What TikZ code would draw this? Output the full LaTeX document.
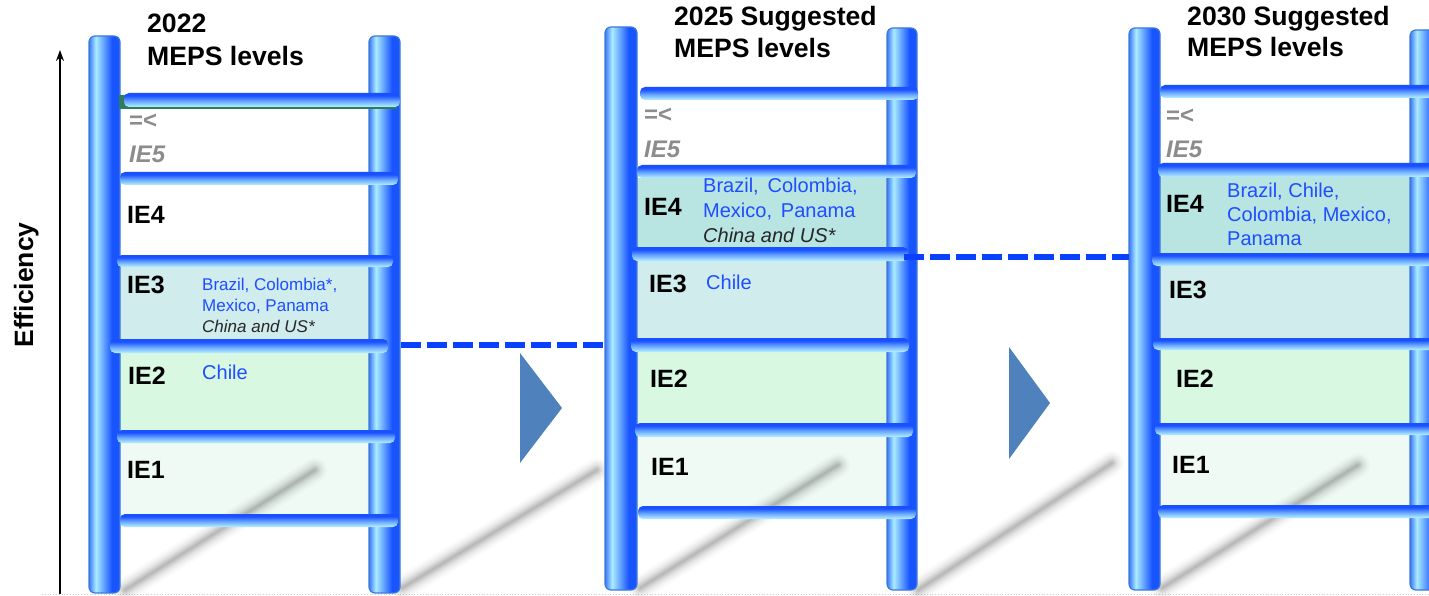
\documentclass[tikz,border=0pt]{standalone}
\usepackage{fontspec}
\setmainfont{Liberation Sans}
\usetikzlibrary{arrows.meta}
\definecolor{railedge}{RGB}{62,122,218}
\definecolor{railA}{RGB}{80,140,255}
\definecolor{railL}{RGB}{170,236,255}
\definecolor{railD}{RGB}{25,85,255}
\definecolor{rungL}{RGB}{185,242,255}
\definecolor{rungM}{RGB}{110,172,255}
\definecolor{rungD}{RGB}{25,80,255}
\definecolor{bandIV}{RGB}{184,228,226}
\definecolor{bandIII}{RGB}{208,236,236}
\definecolor{bandII}{RGB}{216,248,226}
\definecolor{bandI}{RGB}{240,250,244}
\definecolor{cblue}{RGB}{30,78,255}
\definecolor{grayT}{RGB}{140,140,140}
\definecolor{dashblue}{RGB}{10,64,255}
\definecolor{triblue}{RGB}{79,129,189}
\definecolor{greenedge}{RGB}{46,125,90}
\pgfdeclarehorizontalshading{railshade}{100bp}{color(0bp)=(railedge); color(25bp)=(railedge); color(27bp)=(railA); color(36bp)=(railL); color(62bp)=(railD); color(73bp)=(railD); color(75bp)=(railedge); color(100bp)=(railedge)}
\pgfdeclareverticalshading{rungshade}{100bp}{color(0bp)=(rungL); color(25bp)=(rungL); color(45bp)=(rungM); color(66bp)=(rungD); color(75bp)=(rungD); color(100bp)=(rungD)}
\tikzset{
  rail/.style={shade, shading=railshade, draw=railedge, line width=1.2pt, rounded corners=6pt},
  rung/.style={shade, shading=rungshade, rounded corners=5pt},
  bandfour/.style={fill=bandIV},
  bandthree/.style={fill=bandIII},
  bandtwo/.style={fill=bandII},
  bandone/.style={fill=bandI},
  ttl/.style={font=\fontsize{26.6}{30}\selectfont\bfseries, anchor=base west, inner sep=0pt},
  ielab/.style={font=\fontsize{25}{30}\selectfont\bfseries, anchor=base west, inner sep=0pt},
  ieg/.style={font=\fontsize{24}{28}\selectfont\bfseries\itshape, text=grayT, anchor=base west, inner sep=0pt},
  ltg/.style={font=\fontsize{24}{28}\selectfont\bfseries, text=grayT, anchor=base west, inner sep=0pt},
  csmall/.style={font=\fontsize{17}{20}\selectfont, text=cblue, anchor=base west, inner sep=0pt},
  cbig/.style={font=\fontsize{20}{24}\selectfont, text=cblue, anchor=base west, inner sep=0pt},
  ismall/.style={font=\fontsize{17}{20}\selectfont\itshape, text=black!85, anchor=base west, inner sep=0pt},
  ibig/.style={font=\fontsize{20}{24}\selectfont\itshape, text=black!85, anchor=base west, inner sep=0pt},
  dashline/.style={draw=dashblue, line width=6pt, dash pattern=on 20pt off 6pt},
  tri/.style={fill=triblue},
}
\newcommand{\shadowstroke}[2]{%
  \foreach \w/\o in {24/0.02,19/0.03,15/0.035,11/0.045,8/0.05,5/0.06,2/0.06}{%
    \draw[line width=\w pt, opacity=\o, line cap=round, black] (#1) -- (#2);}}
\begin{document}
\begin{tikzpicture}[x=1pt,y=-1pt]
\clip (0,0) rectangle (1429,596);
\fill[white] (0,0) rectangle (1429,596);

% baseline
\coordinate (gl) at (42,594);
\coordinate (gr) at (1429,594);
\draw[gray!40, line width=0.8pt, dotted] (gl) -- (gr);

% bands ladder 1
\path[bandthree] (120,267) rectangle (369,339);
\path[bandtwo] (120,353) rectangle (369,430);
\path[bandone] (120,443) rectangle (369,514);
% bands ladder 2
\path[bandfour] (637,178) rectangle (887,247);
\path[bandthree] (638,261) rectangle (887,338);
\path[bandtwo] (637,352) rectangle (887,423);
\path[bandone] (637,437) rectangle (887,506);
% bands ladder 3
\path[bandfour] (1160,177) rectangle (1410,253);
\path[bandthree] (1160,266) rectangle (1410,338);
\path[bandtwo] (1160,350) rectangle (1410,423);
\path[bandone] (1160,435) rectangle (1410,505);

% shadows
\coordinate (s1a) at (125,590); \coordinate (s1b) at (315,470);
\coordinate (s2a) at (402,588); \coordinate (s2b) at (597,470);
\coordinate (s3a) at (640,588); \coordinate (s3b) at (838,465);
\coordinate (s4a) at (918,590); \coordinate (s4b) at (1112,463);
\coordinate (s5a) at (1162,588); \coordinate (s5b) at (1358,465);
\shadowstroke{s1a}{s1b}
\shadowstroke{s2a}{s2b}
\shadowstroke{s3a}{s3b}
\shadowstroke{s4a}{s4b}
\shadowstroke{s5a}{s5b}

% triangles
\path[tri] (520,353) -- (562,408) -- (520,463) -- cycle;
\path[tri] (1009,347) -- (1050,403) -- (1009,459) -- cycle;

% efficiency axis
\coordinate (ea) at (60,594);
\coordinate (eb) at (60,50);
\draw[line width=1.5pt, -{Stealth[length=11pt,width=8pt]}] (ea) -- (eb);
\node[rotate=90, anchor=base, inner sep=0pt, font=\fontsize{26.5}{30}\selectfont\bfseries] (eff) at (33,285) {Efficiency};

% ladder 1 rails
\path[rail] (89,36) rectangle (120,593);
\path[rail] (369,36) rectangle (400,593);
% green edge
\fill[greenedge] (119,95) rectangle (397,109);
% ladder 1 rungs
\path[rung] (124,93) rectangle (400,107);
\path[rung] (120,172) rectangle (398,185);
\path[rung] (117,255) rectangle (393,267);
\path[rung] (110,339) rectangle (388,353);
\path[rung] (117,430) rectangle (395,443);
\path[rung] (120,514) rectangle (398,527);

% ladder 2 rails
\path[rail] (605,27) rectangle (637,590);
\path[rail] (887,28) rectangle (917,590);
\path[rung] (640,87) rectangle (918,100);
\path[rung] (637,165) rectangle (916,178);
\path[rung] (632,247) rectangle (908,261);
\path[rung] (631,338) rectangle (909,352);
\path[rung] (635,423) rectangle (913,437);
\path[rung] (638,506) rectangle (916,519);

% ladder 3 rails
\path[rail] (1129,28) rectangle (1160,590);
\path[rail] (1410,30) rectangle (1441,590);
\path[rung] (1160,85) rectangle (1445,98);
\path[rung] (1158,163) rectangle (1445,177);
\path[rung] (1152,253) rectangle (1445,266);
\path[rung] (1153,338) rectangle (1445,350);
\path[rung] (1155,423) rectangle (1445,435);
\path[rung] (1158,505) rectangle (1445,518);

% dashed connectors
\coordinate (d1a) at (401,345);
\coordinate (d1b) at (605,345);
\draw[dashline] (d1a) -- (d1b);
\coordinate (d2a) at (904,257);
\coordinate (d2b) at (1129,257);
\draw[dashline] (d2a) -- (d2b);

% ladder 1 text
\node[ttl] (t1a) at (147,33) {2022};
\node[ttl] (t1b) at (147,66) {MEPS levels};
\node[ltg] (l1le) at (129,129) {=<};
\node[ieg] (l1e5) at (129,163) {IE5};
\node[ielab] (l1e4) at (127,223) {IE4};
\node[ielab] (l1e3) at (127,293) {IE3};
\node[csmall] (l1c1) at (202,290) {Brazil, Colombia*,};
\node[csmall] (l1c2) at (202,311) {Mexico, Panama};
\node[ismall] (l1c3) at (202,332) {China and US*};
\node[ielab] (l1e2) at (128,384) {IE2};
\node[cbig] (l1ch) at (202,379) {Chile};
\node[ielab] (l1e1) at (127,478) {IE1};

% ladder 2 text
\node[ttl] (t2a) at (674,26) {2025 Suggested};
\node[ttl] (t2b) at (674,58) {MEPS levels};
\node[ltg] (l2le) at (644,123) {=<};
\node[ieg] (l2e5) at (644,158) {IE5};
\node[ielab] (l2e4) at (644,215) {IE4};
\node[cbig] (l2c1) at (703,193) {Brazil,\, Colombia,};
\node[cbig] (l2c2) at (703,218) {Mexico,\, Panama};
\node[ibig] (l2c3) at (703,242) {China and US*};
\node[ielab] (l2e3) at (649,292) {IE3};
\node[cbig] (l2ch) at (706,289) {Chile};
\node[ielab] (l2e2) at (650,387) {IE2};
\node[ielab] (l2e1) at (651,475) {IE1};

% ladder 3 text
\node[ttl] (t3a) at (1187,26) {2030 Suggested};
\node[ttl] (t3b) at (1187,57) {MEPS levels};
\node[ltg] (l3le) at (1166,124) {=<};
\node[ieg] (l3e5) at (1166,158) {IE5};
\node[ielab] (l3e4) at (1166,212) {IE4};
\node[cbig] (l3c1) at (1227,197) {Brazil, Chile,};
\node[cbig] (l3c2) at (1227,222) {Colombia, Mexico,};
\node[cbig] (l3c3) at (1227,245) {Panama};
\node[ielab] (l3e3) at (1169,298) {IE3};
\node[ielab] (l3e2) at (1176,387) {IE2};
\node[ielab] (l3e1) at (1172,473) {IE1};
\end{tikzpicture}
\end{document}
